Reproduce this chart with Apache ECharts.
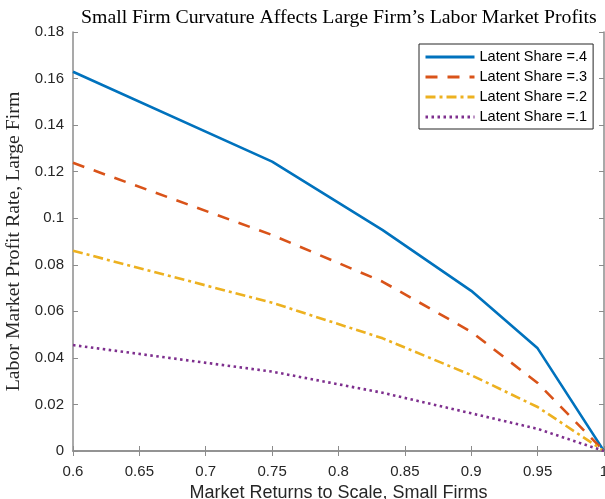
<!DOCTYPE html>
<html>
<head>
<meta charset="utf-8">
<script src="https://cdn.jsdelivr.net/npm/echarts@6/dist/echarts.min.js"></script>
<style>
  html, body { margin: 0; padding: 0; background: #fff; }
  #chart { width: 605px; height: 499px; }
</style>
</head>
<body>
<div id="chart"></div>
<script>
// returns to scale of the small firms (x)
const returnsToScale = [0.6, 0.75, 0.8333, 0.9, 0.95, 1];

// labor market profit rate of the large firm, one list per latent share
const share4 = [0.1629, 0.1243, 0.0949, 0.0688, 0.0441, 0];
const share3 = [0.1238, 0.0928, 0.0727, 0.0512, 0.0292, 0];
const share2 = [0.0860, 0.0637, 0.0484, 0.0326, 0.0189, 0];
const share1 = [0.0455, 0.0341, 0.0250, 0.0162, 0.0095, 0];

const seriesNames = ['Latent Share =.4', 'Latent Share =.3', 'Latent Share =.2', 'Latent Share =.1'];
const seriesColors = ['#0072BD', '#D95319', '#EDB120', '#7E2F8E'];
const seriesDash = ['solid', [12, 10], [10, 4, 3, 4], [2.5, 3.5]];
const seriesValues = [share4, share3, share2, share1];

const axisGray = '#8c8c8c';
const textColor = '#262626';
const fmt = v => String(+v.toFixed(2));

function pairUp(ys) {
  return ys.map((y, i) => [returnsToScale[i], y]);
}

const chart = echarts.init(document.getElementById('chart'));

const xCommon = {
  type: 'value', min: 0.6, max: 1, interval: 0.05,
  splitLine: { show: false },
  axisLine: { show: true, lineStyle: { color: axisGray, width: 1.5 } },
  axisTick: { show: true, inside: true, length: 5, lineStyle: { color: axisGray } }
};
const yCommon = {
  type: 'value', min: 0, max: 0.18, interval: 0.02,
  splitLine: { show: false },
  axisLine: { show: true, lineStyle: { color: axisGray, width: 1.5 } },
  axisTick: { show: true, inside: true, length: 5, lineStyle: { color: axisGray } }
};

chart.setOption({
  animation: false,
  backgroundColor: '#fff',
  title: {
    text: 'Small Firm Curvature Affects Large Firm\u2019s Labor Market Profits',
    left: 81,
    top: 8,
    padding: 0,
    textStyle: {
      fontFamily: 'Liberation Serif',
      fontSize: 19.8,
      fontWeight: 'normal',
      color: '#000'
    }
  },
  grid: { left: 73, right: 1, top: 32, bottom: 48, outerBoundsMode: 'none' },
  legend: {
    orient: 'vertical',
    left: 419,
    top: 44,
    padding: [5, 6, 4, 5],
    itemWidth: 49,
    itemHeight: 14,
    itemGap: 4,
    backgroundColor: '#fff',
    borderColor: '#262626',
    borderWidth: 1,
    itemStyle: { color: 'rgba(0,0,0,0)', borderWidth: 0, opacity: 0 },
    lineStyle: { width: 3 },
    textStyle: { fontFamily: 'Liberation Sans', fontSize: 14.5, color: '#000', lineHeight: 16, padding: [0, 0, 0, 0] },
    data: seriesNames
  },
  xAxis: [
    Object.assign({}, xCommon, {
      position: 'bottom',
      name: 'Market Returns to Scale, Small Firms',
      nameLocation: 'middle',
      nameGap: 31,
      nameTextStyle: { fontFamily: 'Liberation Sans', fontSize: 18, color: textColor },
      axisLabel: { margin: 13, fontFamily: 'Liberation Sans', fontSize: 15, color: textColor, formatter: fmt }
    }),
    Object.assign({}, xCommon, { position: 'top', axisLabel: { show: false } })
  ],
  yAxis: [
    Object.assign({}, yCommon, {
      position: 'left',
      name: 'Labor Market Profit Rate, Large Firm',
      nameLocation: 'middle',
      nameGap: 45,
      nameTextStyle: { fontFamily: 'Liberation Serif', fontSize: 19.8, color: textColor },
      axisLabel: { margin: 9, fontFamily: 'Liberation Sans', fontSize: 15, color: textColor, formatter: fmt }
    }),
    Object.assign({}, yCommon, { position: 'right', axisLabel: { show: false } })
  ],
  series: seriesValues.map((vals, i) => ({
    name: seriesNames[i],
    type: 'line',
    xAxisIndex: 0,
    yAxisIndex: 0,
    symbol: 'none',
    data: pairUp(vals),
    itemStyle: { color: seriesColors[i] },
    lineStyle: { color: seriesColors[i], width: 2.6, type: seriesDash[i] }
  }))
});
</script>
</body>
</html>
